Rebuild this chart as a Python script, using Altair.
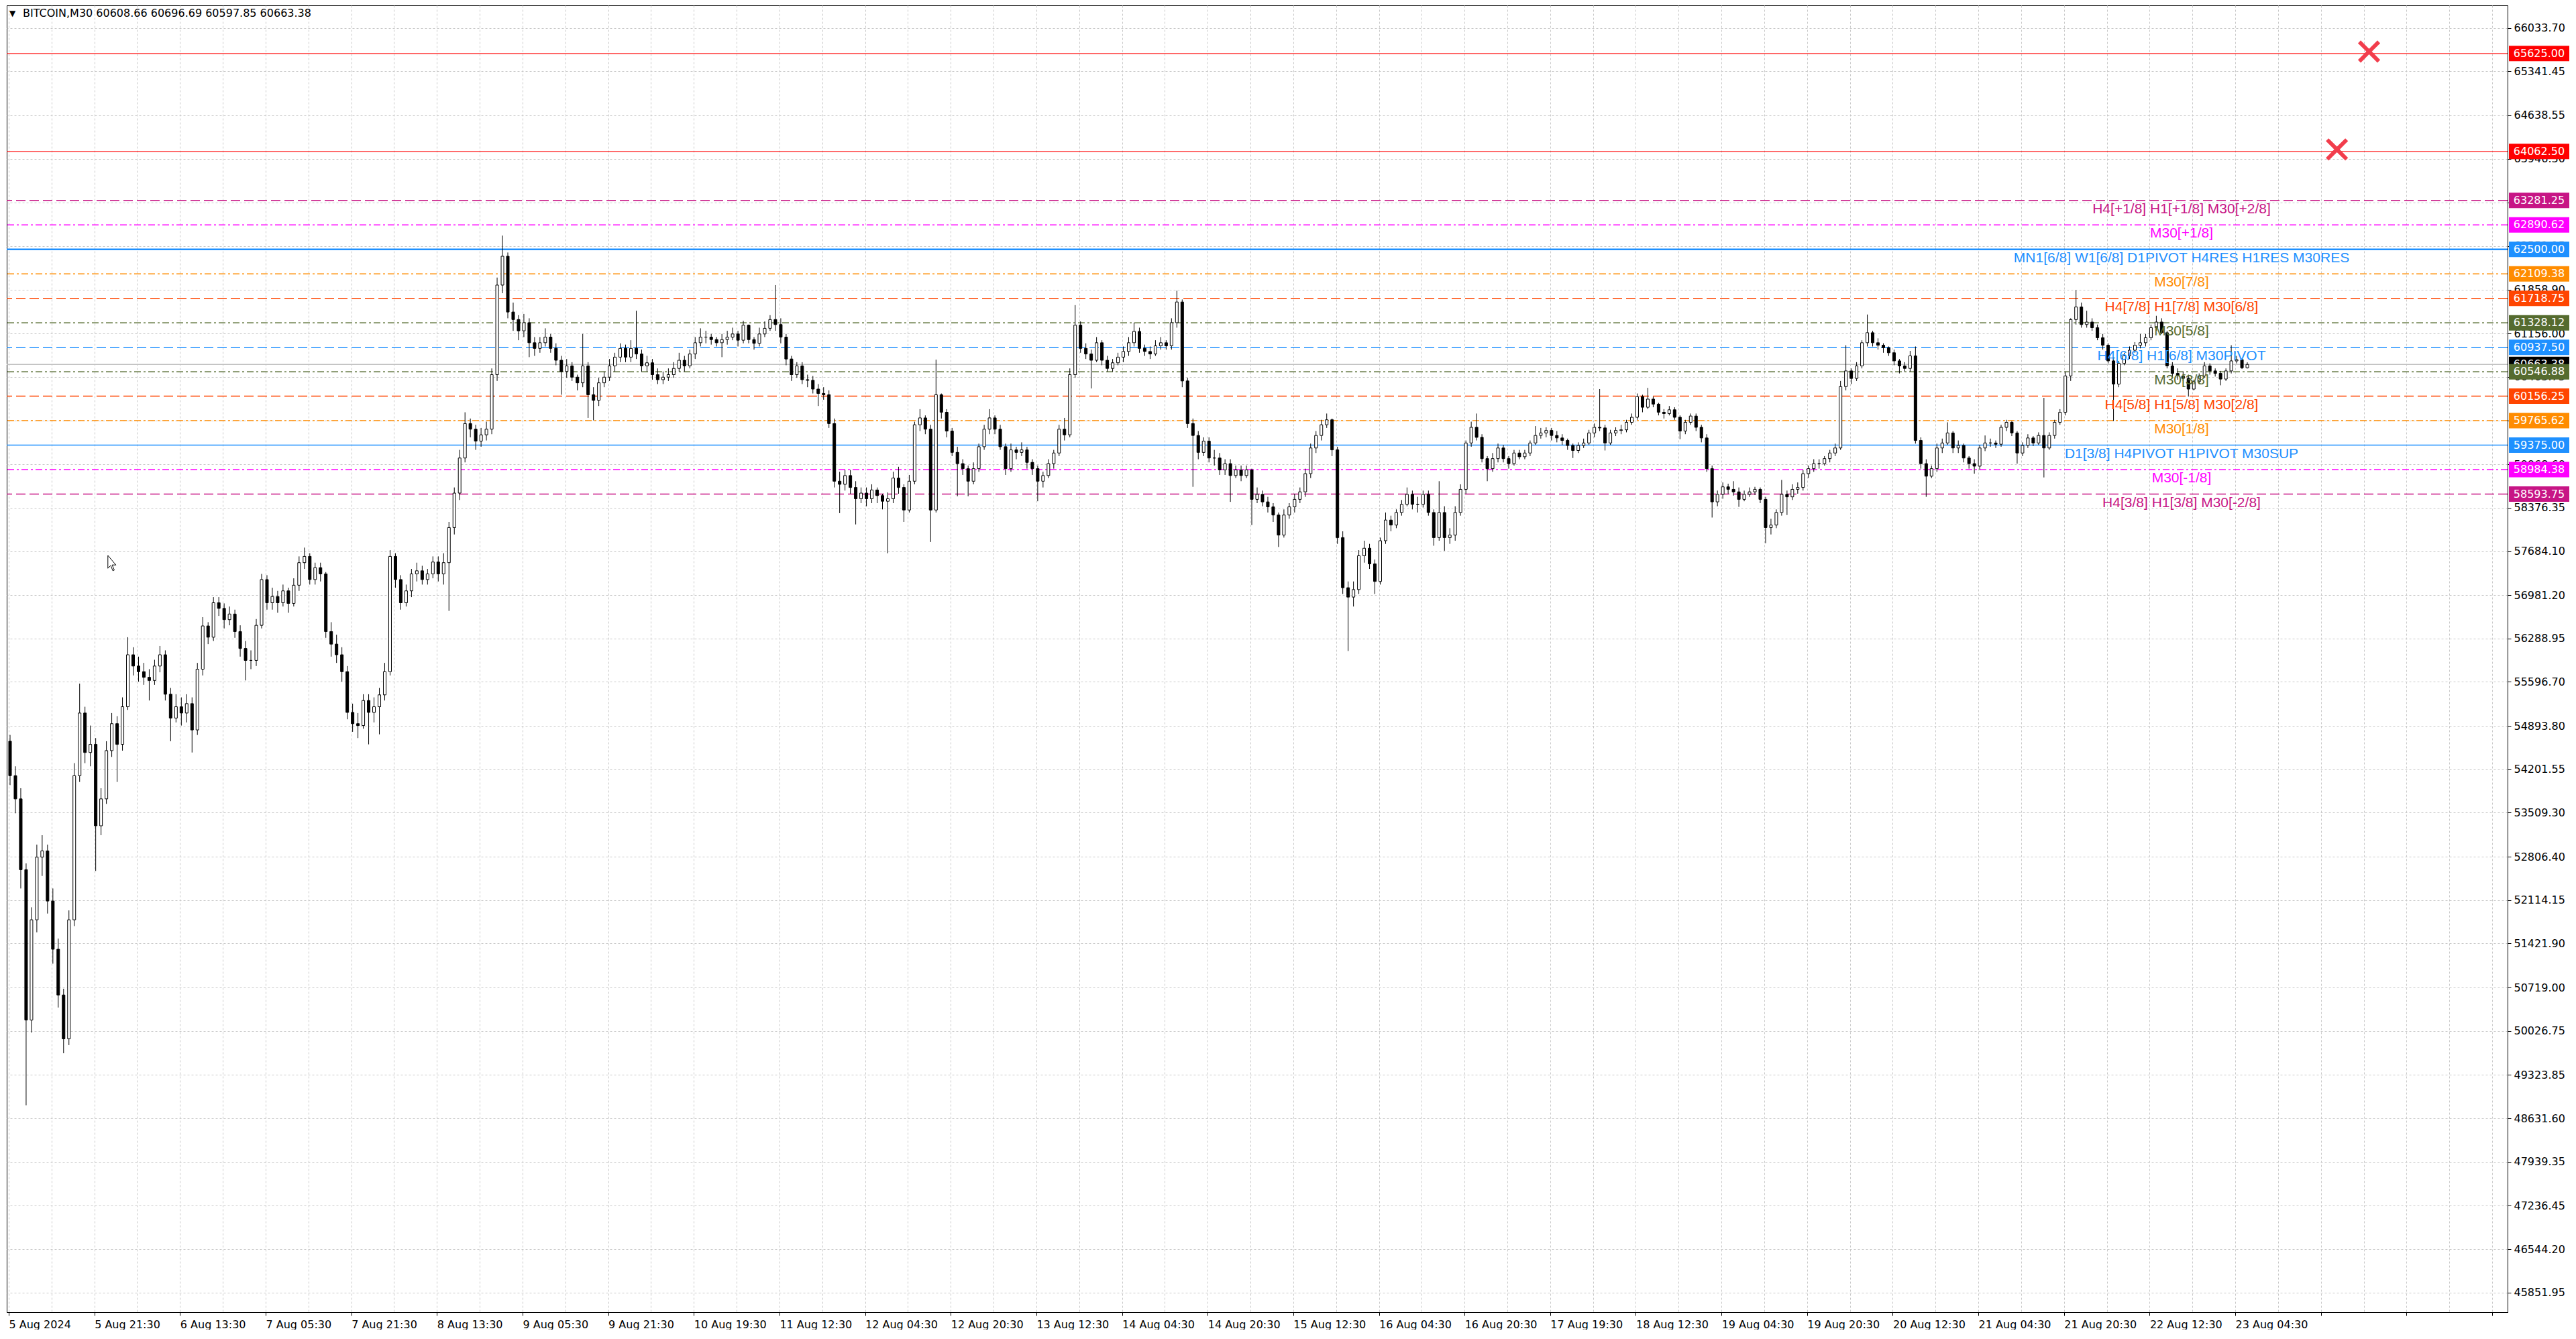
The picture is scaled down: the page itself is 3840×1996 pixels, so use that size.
import json
import altair as alt
import pandas as pd

# ---------------- axis labels ----------------
time_labels = ["5 Aug 2024", "5 Aug 21:30", "6 Aug 13:30", "7 Aug 05:30", "7 Aug 21:30",
               "8 Aug 13:30", "9 Aug 05:30", "9 Aug 21:30", "10 Aug 19:30", "11 Aug 12:30",
               "12 Aug 04:30", "12 Aug 20:30", "13 Aug 12:30", "14 Aug 04:30", "14 Aug 20:30",
               "15 Aug 12:30", "16 Aug 04:30", "16 Aug 20:30", "17 Aug 19:30", "18 Aug 12:30",
               "19 Aug 04:30", "19 Aug 20:30", "20 Aug 12:30", "21 Aug 04:30", "21 Aug 20:30",
               "22 Aug 12:30", "23 Aug 04:30"]

price_ticks = [66033.70, 65341.45, 64638.55, 63946.30, 63243.40, 62551.15, 61858.90, 61156.00,
               60463.75, 59771.50, 59068.60, 58376.35, 57684.10, 56981.20, 56288.95, 55596.70,
               54893.80, 54201.55, 53509.30, 52806.40, 52114.15, 51421.90, 50719.00, 50026.75,
               49323.85, 48631.60, 47939.35, 47236.45, 46544.20, 45851.95]

# ---------------- candles (hourly, 16 per axis-label interval) ----------------
candle_open = [
    54650, 54100, 53730, 52600, 50200, 51800, 52800, 52900, 52100, 51330, 50600, 49900, 51800, 54100, 55100, 54470,
    54600, 53300, 53730, 54500, 54930, 54600, 55200, 56030, 55850, 55760, 55670, 55620, 55850, 56030, 55400, 55020,
    55200, 55100, 55250, 54830, 55800, 56490, 56310, 56860, 56770, 56590, 56680, 56400, 56130, 55940, 55940, 56500,
    57230, 56860, 56960, 56860, 57050, 56850, 57140, 57500, 57600, 57230, 57420, 57320, 56400, 56200, 56030, 55760,
    55110, 54930, 54900, 55300, 55110, 55200, 55390, 55760, 57600, 57230, 56860, 57050, 57320, 57370, 57230, 57320,
    57510, 57320, 57500, 58060, 58610, 59170, 59720, 59630, 59440, 59540, 59630, 60500, 61930, 62390, 61500, 61380,
    61200, 61330, 61010, 60920, 61010, 61100, 60920, 60730, 60550, 60640, 60460, 60370, 60640, 60180, 60090, 60370,
    60460, 60640, 60780, 60920, 60780, 60920, 60830, 60640, 60690, 60500, 60420, 60460, 60500, 60600, 60730, 60640,
    60830, 61010, 61100, 61100, 61060, 61010, 61060, 61100, 61150, 61050, 61290, 61060, 61000, 61150, 61240, 61380,
    61300, 61100, 60750, 60500, 60640, 60420, 60410, 60270, 60200, 60180, 59720, 58800, 58750, 58890, 58700, 58520,
    58610, 58520, 58660, 58570, 58480, 58520, 58850, 58700, 58340, 58800, 59700, 59810, 59630, 58340, 60180, 59900,
    59600, 59260, 59080, 59000, 58800, 59000, 59350, 59630, 59810, 59630, 59350, 59000, 59300, 59260, 59300, 59100,
    59000, 58800, 58890, 59080, 59250, 59630, 59540, 60500, 61290, 60920, 60830, 60730, 61010, 60730, 60600, 60690,
    60780, 60870, 61010, 61190, 60920, 60870, 60830, 60960, 61010, 60960, 61330, 61660, 60400, 59720, 59530, 59260,
    59440, 59170, 59170, 58980, 59080, 58890, 58980, 58890, 58980, 58510, 58590, 58470, 58390, 58260, 57940, 58260,
    58390, 58510, 58630, 58920, 59330, 59530, 59700, 59780, 59300, 57900, 57100, 56950, 57070, 57610, 57730, 57480,
    57200, 57850, 58180, 58100, 58300, 58430, 58590, 58430, 58430, 58590, 58300, 57900, 58300, 57900, 57940, 58300,
    58670, 59410, 59660, 59500, 59160, 59000, 59160, 59330, 59160, 59080, 59250, 59190, 59250, 59410, 59530, 59570,
    59610, 59530, 59490, 59450, 59370, 59290, 59370, 59410, 59570, 59660, 59650, 59410, 59570, 59610, 59620, 59740,
    59820, 60150, 59980, 60110, 60030, 59900, 59880, 59940, 59820, 59600, 59740, 59840, 59660, 59490, 59000, 58470,
    58590, 58710, 58670, 58630, 58510, 58590, 58630, 58670, 58510, 58060, 58100, 58300, 58590, 58550, 58670, 58700,
    58920, 59000, 59080, 59080, 59160, 59250, 59330, 60310, 60560, 60440, 60640, 61010, 61170, 61010, 60970, 60930,
    60850, 60720, 60640, 60600, 60800, 59450, 59080, 58880, 59000, 59330, 59410, 59570, 59330, 59370, 59170, 59080,
    59040, 59330, 59410, 59410, 59390, 59660, 59740, 59570, 59250, 59370, 59490, 59410, 59530, 59330, 59530, 59740,
    59900, 60480, 61380, 61580, 61300, 61340, 61250, 61090, 60970, 60720, 60350, 60680, 60800, 60890, 60970, 61010,
    61090, 61250, 61340, 61170, 60640, 60520, 60480, 60440, 60270, 60390, 60480, 60640, 60560, 60520, 60430, 60560,
    60720, 60740, 60610,
]
candle_high = [
    54750, 54250, 53900, 52700, 52000, 53000, 53150, 53000, 52300, 51500, 50700, 51950, 54300, 55570, 55200, 54900,
    54700, 53900, 54650, 55100, 55050, 55350, 56310, 56150, 56000, 55900, 55800, 55950, 56170, 56100, 55500, 55400,
    55350, 55400, 55350, 55900, 56630, 56550, 56950, 56950, 56850, 56800, 56750, 56500, 56250, 56100, 56600, 57320,
    57300, 57100, 57050, 57150, 57100, 57250, 57600, 57740, 57650, 57500, 57500, 57350, 56550, 56350, 56150, 55850,
    55250, 55100, 55400, 55400, 55350, 55500, 55900, 57700, 57650, 57300, 57150, 57400, 57500, 57450, 57400, 57600,
    57600, 57650, 58150, 58700, 59300, 59900, 59800, 59700, 59650, 59750, 60600, 62050, 62720, 62450, 61650, 61450,
    61470, 61400, 61100, 61100, 61240, 61150, 61000, 60800, 60750, 60700, 60500, 61150, 60700, 60300, 60450, 60550,
    60750, 60850, 61000, 60980, 61050, 61520, 60900, 60800, 60750, 60600, 60550, 60600, 60700, 60850, 60800, 60900,
    61100, 61240, 61200, 61150, 61100, 61150, 61200, 61250, 61200, 61360, 61300, 61100, 61250, 61350, 61450, 61930,
    61400, 61150, 60800, 60700, 60700, 60500, 60480, 60350, 60300, 60250, 59800, 58950, 58980, 58980, 58800, 58700,
    58700, 58750, 58700, 58600, 58620, 58950, 59030, 58750, 58900, 59750, 59950, 59850, 59700, 60740, 60200, 59950,
    59650, 59350, 59150, 59050, 59100, 59400, 59700, 59950, 59850, 59700, 59400, 59400, 59350, 59420, 59350, 59150,
    59050, 58950, 59150, 59300, 59700, 59810, 60600, 61610, 61350, 61000, 60900, 61100, 61050, 60800, 60750, 60850,
    60950, 61100, 61330, 61250, 60980, 60950, 61050, 61100, 61050, 61400, 61840, 61700, 60450, 59800, 59600, 59500,
    59500, 59300, 59250, 59150, 59150, 59050, 59050, 59050, 59000, 58700, 58650, 58550, 58450, 58300, 58350, 58450,
    58600, 58700, 59000, 59400, 59600, 59780, 59880, 59800, 59350, 58000, 57200, 57200, 57700, 57850, 57800, 57550,
    57900, 58300, 58250, 58350, 58500, 58700, 58650, 58550, 58650, 58650, 58350, 58800, 58400, 58050, 58400, 58750,
    59450, 59750, 59880, 59550, 59200, 59250, 59400, 59380, 59200, 59300, 59300, 59300, 59450, 59680, 59650, 59660,
    59650, 59600, 59550, 59480, 59400, 59420, 59480, 59620, 59720, 60270, 59700, 59620, 59660, 59700, 59780, 59880,
    60200, 60180, 60290, 60150, 60050, 59950, 60000, 59980, 59850, 59780, 59880, 59880, 59700, 59550, 59050, 58650,
    58780, 58760, 58800, 58700, 58650, 58700, 58710, 58700, 58550, 58200, 58350, 58820, 58650, 58750, 58780, 58980,
    59050, 59150, 59150, 59200, 59300, 59400, 60400, 60970, 60600, 60700, 61050, 61460, 61200, 61080, 61000, 60950,
    60900, 60750, 60700, 60880, 60950, 59500, 59150, 59050, 59400, 59480, 59740, 59600, 59450, 59400, 59200, 59150,
    59380, 59530, 59480, 59450, 59700, 59780, 59760, 59600, 59420, 59550, 59520, 59580, 60130, 59580, 59780, 59950,
    60550, 61400, 61850, 61650, 61520, 61400, 61300, 61150, 61000, 60780, 60720, 60850, 60950, 61020, 61150, 61150,
    61300, 61440, 61400, 61200, 60700, 60600, 60550, 60500, 60420, 60520, 60700, 60680, 60600, 60560, 60600, 60970,
    60800, 60760, 60697,
]
candle_low = [
    53950, 53500, 52300, 48840, 50000, 51600, 52500, 51900, 51100, 50400, 49670, 49800, 51700, 54000, 54300, 54250,
    52580, 53150, 53650, 54400, 54000, 54500, 55150, 55700, 55600, 55550, 55300, 55550, 55750, 55300, 54650, 54950,
    54900, 54950, 54470, 54750, 55700, 56200, 56250, 56650, 56450, 56500, 56300, 56000, 55620, 55800, 55850, 56450,
    56750, 56750, 56700, 56800, 56700, 56800, 57050, 57400, 57150, 57150, 57200, 56300, 56000, 55900, 55600, 55000,
    54800, 54700, 54850, 54600, 54950, 54760, 55300, 55700, 57100, 56750, 56800, 56950, 57200, 57150, 57150, 57250,
    57200, 57150, 56730, 57950, 58500, 59100, 59500, 59300, 59350, 59450, 59550, 60400, 61800, 61400, 61200, 61050,
    61100, 60780, 60800, 60850, 60950, 60850, 60650, 60180, 60450, 60400, 60250, 60300, 59810, 59770, 60000, 60300,
    60400, 60550, 60700, 60700, 60700, 60750, 60550, 60550, 60420, 60350, 60350, 60400, 60450, 60550, 60550, 60600,
    60750, 60950, 61000, 60980, 60950, 60780, 60980, 61050, 60950, 61000, 61000, 60900, 60950, 61100, 61200, 61200,
    61000, 60650, 60400, 60450, 60350, 60300, 60200, 60000, 60100, 59650, 58700, 58290, 58650, 58600, 58110, 58450,
    58400, 58450, 58450, 58350, 57650, 58450, 58600, 58150, 58300, 58750, 59600, 59550, 57830, 58300, 59800, 59500,
    59200, 58560, 58900, 58560, 58750, 58950, 59300, 59550, 59550, 59300, 58900, 58950, 59150, 59200, 59000, 58900,
    58480, 58700, 58850, 59000, 59200, 59450, 59500, 60450, 60850, 60750, 60280, 60700, 60650, 60550, 60550, 60650,
    60700, 60800, 60950, 60850, 60800, 60750, 60800, 60900, 60900, 60900, 61250, 60300, 59650, 58710, 59150, 59200,
    59100, 59050, 58900, 58900, 58470, 58850, 58800, 58850, 58100, 58450, 58400, 58300, 58150, 57750, 57900, 58200,
    58300, 58450, 58550, 58850, 59250, 59450, 59650, 59200, 57800, 57000, 56090, 56800, 57000, 57500, 57400, 57000,
    57150, 57800, 58000, 58050, 58250, 58400, 58350, 58300, 58380, 58250, 57770, 57850, 57690, 57800, 57850, 58250,
    58600, 59350, 59450, 59100, 58800, 58950, 59100, 59100, 59000, 59050, 59150, 59150, 59200, 59380, 59480, 59500,
    59450, 59420, 59380, 59300, 59170, 59250, 59330, 59380, 59500, 59600, 59290, 59380, 59520, 59550, 59580, 59700,
    59780, 59900, 59950, 59980, 59850, 59800, 59850, 59780, 59470, 59550, 59700, 59600, 59420, 58950, 58220, 58400,
    58520, 58600, 58570, 58390, 58480, 58550, 58580, 58450, 57810, 57950, 58050, 58250, 58260, 58500, 58600, 58650,
    58850, 58950, 59000, 59050, 59100, 59200, 59300, 60250, 60350, 60400, 60600, 60950, 60950, 60900, 60850, 60800,
    60650, 60520, 60550, 60550, 59400, 59000, 58550, 58850, 58950, 59250, 59380, 59250, 59250, 59100, 59000, 58920,
    58980, 59280, 59350, 59330, 59350, 59600, 59520, 59080, 59200, 59330, 59360, 59380, 58860, 59300, 59480, 59700,
    59850, 60400, 61300, 61250, 61250, 61200, 61050, 60900, 60680, 59760, 60300, 60650, 60750, 60850, 60920, 60950,
    61050, 61200, 61150, 60600, 60450, 60420, 60400, 60150, 60250, 60350, 60450, 60500, 60470, 60330, 60400, 60520,
    60680, 60590, 60598,
]
candle_close = [
    54100, 53730, 52600, 50200, 51800, 52800, 52900, 52100, 51330, 50600, 49900, 51800, 54100, 55100, 54470, 54600,
    53300, 53730, 54500, 54930, 54600, 55200, 56030, 55850, 55760, 55670, 55620, 55850, 56030, 55400, 55020, 55200,
    55100, 55250, 54830, 55800, 56490, 56310, 56860, 56770, 56590, 56680, 56400, 56130, 55940, 55940, 56500, 57230,
    56860, 56960, 56860, 57050, 56850, 57140, 57500, 57600, 57230, 57420, 57320, 56400, 56200, 56030, 55760, 55110,
    54930, 54900, 55300, 55110, 55200, 55390, 55760, 57600, 57230, 56860, 57050, 57320, 57370, 57230, 57320, 57510,
    57320, 57500, 58060, 58610, 59170, 59720, 59630, 59440, 59540, 59630, 60500, 61930, 62390, 61500, 61380, 61200,
    61330, 61010, 60920, 61010, 61100, 60920, 60730, 60550, 60640, 60460, 60370, 60640, 60180, 60090, 60370, 60460,
    60640, 60780, 60920, 60780, 60920, 60830, 60640, 60690, 60500, 60420, 60460, 60500, 60600, 60730, 60640, 60830,
    61010, 61100, 61100, 61060, 61010, 61060, 61100, 61150, 61050, 61290, 61060, 61000, 61150, 61240, 61380, 61300,
    61100, 60750, 60500, 60640, 60420, 60410, 60270, 60200, 60180, 59720, 58800, 58750, 58890, 58700, 58520, 58610,
    58520, 58660, 58570, 58480, 58520, 58850, 58700, 58340, 58800, 59700, 59810, 59630, 58340, 60180, 59900, 59600,
    59260, 59080, 59000, 58800, 59000, 59350, 59630, 59810, 59630, 59350, 59000, 59300, 59260, 59300, 59100, 59000,
    58800, 58890, 59080, 59250, 59630, 59540, 60500, 61290, 60920, 60830, 60730, 61010, 60730, 60600, 60690, 60780,
    60870, 61010, 61190, 60920, 60870, 60830, 60960, 61010, 60960, 61330, 61660, 60400, 59720, 59530, 59260, 59440,
    59170, 59170, 58980, 59080, 58890, 58980, 58890, 58980, 58510, 58590, 58470, 58390, 58260, 57940, 58260, 58390,
    58510, 58630, 58920, 59330, 59530, 59700, 59780, 59300, 57900, 57100, 56950, 57070, 57610, 57730, 57480, 57200,
    57850, 58180, 58100, 58300, 58430, 58590, 58430, 58430, 58590, 58300, 57900, 58300, 57900, 57940, 58300, 58670,
    59410, 59660, 59500, 59160, 59000, 59160, 59330, 59160, 59080, 59250, 59190, 59250, 59410, 59530, 59570, 59610,
    59530, 59490, 59450, 59370, 59290, 59370, 59410, 59570, 59660, 59650, 59410, 59570, 59610, 59620, 59740, 59820,
    60150, 59980, 60110, 60030, 59900, 59880, 59940, 59820, 59600, 59740, 59840, 59660, 59490, 59000, 58470, 58590,
    58710, 58670, 58630, 58510, 58590, 58630, 58670, 58510, 58060, 58100, 58300, 58590, 58550, 58670, 58700, 58920,
    59000, 59080, 59080, 59160, 59250, 59330, 60310, 60560, 60440, 60640, 61010, 61170, 61010, 60970, 60930, 60850,
    60720, 60640, 60600, 60800, 59450, 59080, 58880, 59000, 59330, 59410, 59570, 59330, 59370, 59170, 59080, 59040,
    59330, 59410, 59410, 59390, 59660, 59740, 59570, 59250, 59370, 59490, 59410, 59530, 59330, 59530, 59740, 59900,
    60480, 61380, 61580, 61300, 61340, 61250, 61090, 60970, 60720, 60350, 60680, 60800, 60890, 60970, 61010, 61090,
    61250, 61340, 61170, 60640, 60520, 60480, 60440, 60270, 60390, 60480, 60640, 60560, 60520, 60430, 60560, 60720,
    60740, 60610, 60663.38,
]

# ---------------- Murrey / pivot levels ----------------
level_price = [65625.00, 64062.50, 63281.25, 62890.62, 62500.00, 62109.38, 61718.75, 61328.12,
               60937.50, 60663.38, 60546.88, 60156.25, 59765.62, 59375.00, 58984.38, 58593.75]
level_color = ["#FF0000", "#FF0000", "#C71585", "#FF00FF", "#1E90FF", "#FF8C00", "#FF4500", "#556B2F",
               "#1E90FF", "#C0C0C0", "#556B2F", "#FF4500", "#FF8C00", "#1E90FF", "#FF00FF", "#C71585"]
level_box_color = ["#FF0000", "#FF0000", "#C71585", "#FF00FF", "#1E90FF", "#FF8C00", "#FF4500", "#556B2F",
                   "#1E90FF", "#000000", "#556B2F", "#FF4500", "#FF8C00", "#1E90FF", "#FF00FF", "#C71585"]
level_style = ["solid", "solid", "dash", "dashdot", "solid", "dashdot", "dash", "dashdot",
               "dash", "solid", "dashdot", "dash", "dashdot", "solid", "dashdot", "dash"]
level_width = [1, 1, 1.5, 1.5, 2.5, 1.5, 1.5, 1.5, 1.5, 1.5, 1.5, 1.5, 1.5, 1.5, 1.5, 1.5]
level_label = ["", "", "H4[+1/8] H1[+1/8] M30[+2/8]", "M30[+1/8]",
               "MN1[6/8] W1[6/8] D1PIVOT H4RES H1RES M30RES", "M30[7/8]",
               "H4[7/8] H1[7/8] M30[6/8]", "M30[5/8]", "H4[6/8] H1[6/8] M30PIVOT", "",
               "M30[3/8]", "H4[5/8] H1[5/8] M30[2/8]", "M30[1/8]",
               "D1[3/8] H4PIVOT H1PIVOT M30SUP", "M30[-1/8]", "H4[3/8] H1[3/8] M30[-2/8]"]
level_box_text = ["65625.00", "64062.50", "63281.25", "62890.62", "62500.00", "62109.38", "61718.75",
                  "61328.12", "60937.50", "60663.38", "60546.88", "60156.25", "59765.62", "59375.00",
                  "58984.38", "58593.75"]

header_text = "BITCOIN,M30  60608.66 60696.69 60597.85 60663.38"

marker_bar = [882, 870]
marker_price = [65625.00, 64062.50]

# ---------------- layout ----------------
PLOT_W, PLOT_H = 3728, 1948
Y_DOMAIN = [45538, 66394]
X_DOMAIN = [0.5, 932.5]
DASH = [14, 6]
DASHDOT = [10, 4, 3, 4]
BOX_PATH = "M-1,-0.2556L1,-0.2556L1,0.2556L-1,0.2556Z"
X_PATH = "M-1,-0.75L-0.75,-1L0,-0.25L0.75,-1L1,-0.75L0.25,0L1,0.75L0.75,1L0,0.25L-0.75,1L-1,0.75L-0.25,0Z"
CURSOR_PATH = "M-0.6,-1L-0.6,0.6L-0.25,0.25L0.02,0.9L0.2,0.82L-0.07,0.18L0.4,0.18Z"

candles = pd.DataFrame({
    "bar": [2 * k + 0.5 for k in range(len(candle_close))],
    "open": candle_open, "high": candle_high, "low": candle_low, "close": candle_close,
})
levels = pd.DataFrame({
    "price": level_price, "color": level_color, "box_color": level_box_color,
    "style": level_style, "width": level_width, "label": level_label, "box_text": level_box_text,
})
markers = pd.DataFrame({"bar": marker_bar, "price": marker_price})

xscale = alt.Scale(domain=X_DOMAIN, nice=False, zero=False)
yscale = alt.Scale(domain=Y_DOMAIN, nice=False, zero=False)

label_expr = ("datum.value % 32 === 0 && datum.value / 32 < " + str(len(time_labels))
              + " ? " + json.dumps(time_labels) + "[datum.value / 32] : ''")

x_axis = alt.Axis(values=list(range(0, 929, 16)), labelExpr=label_expr, grid=True, title=None,
                  tickSize=5,
                  tickOpacity={"condition": {"test": "datum.value % 32 === 0", "value": 1}, "value": 0},
                  labelAlign="left", labelBaseline="top", labelPadding=5, labelOverlap=False,
                  labelBound=False, labelFlush=False)
y_axis = alt.Axis(values=price_ticks, format=".2f", orient="right", grid=True, title=None,
                  tickSize=5, labelPadding=4, labelOverlap=False, labelBound=False, labelFlush=False)


def Y(field):
    return alt.Y(field, scale=yscale, axis=y_axis)


def X(field):
    return alt.X(field, scale=xscale, axis=x_axis)


layers = []
for style, dash in [("solid", None), ("dash", DASH), ("dashdot", DASHDOT)]:
    mk = alt.Chart(levels).transform_filter("datum.style == '" + style + "'")
    mk = mk.mark_rule(strokeDash=dash) if dash else mk.mark_rule()
    layers.append(mk.encode(
        y=Y("price:Q"),
        color=alt.Color("color:N", scale=None),
        strokeWidth=alt.StrokeWidth("width:Q", scale=None),
    ))

wicks = alt.Chart(candles).mark_rule(color="black", strokeWidth=1).encode(
    x=X("bar:Q"), y=Y("low:Q"), y2="high:Q",
)
bodies = alt.Chart(candles).mark_bar(width=4, stroke="black", strokeWidth=1).encode(
    x=X("bar:Q"), y=Y("open:Q"), y2="close:Q",
    fill=alt.condition("datum.close >= datum.open", alt.value("#FFFFFF"), alt.value("#000000")),
)
level_text = alt.Chart(levels).transform_filter("datum.label != ''").mark_text(
    font="Liberation Sans", fontSize=21, align="center", baseline="top", dy=2
).encode(
    x=alt.value(3242), y=Y("price:Q"), text="label:N",
    color=alt.Color("color:N", scale=None),
)


def box_layers(test):
    src = alt.Chart(levels).transform_filter(test)
    b = src.mark_point(shape=BOX_PATH, filled=True, size=8100, opacity=1, strokeWidth=0).encode(
        x=alt.value(3775), y=Y("price:Q"), color=alt.Color("box_color:N", scale=None),
    )
    t = src.mark_text(font="DejaVu Sans", fontSize=16, color="white",
                      align="center", baseline="middle").encode(
        x=alt.value(3775), y=Y("price:Q"), text="box_text:N",
    )
    return [b, t]


current_boxes = box_layers("datum.box_color == '#000000'")
other_boxes = box_layers("datum.box_color != '#000000'")

xmarks = alt.Chart(markers).mark_point(shape=X_PATH, filled=True, size=1100, opacity=1,
                                       color="#F23D4C", strokeWidth=0, yOffset=-3).encode(
    x=X("bar:Q"), y=Y("price:Q"),
)
header_tri = alt.Chart(pd.DataFrame({"t": ["▼"]})).mark_text(
    font="DejaVu Sans", fontSize=12, color="black", align="left", baseline="middle"
).encode(x=alt.value(4), y=alt.value(12), text="t:N")
header = alt.Chart(pd.DataFrame({"t": [header_text]})).mark_text(
    font="DejaVu Sans", fontSize=16, color="black", align="left", baseline="middle"
).encode(x=alt.value(24), y=alt.value(12), text="t:N")
cursor = alt.Chart(pd.DataFrame({"c": [1]})).mark_point(
    shape=CURSOR_PATH, filled=True, size=576, color="white", stroke="black", strokeWidth=1, opacity=1
).encode(x=alt.value(158), y=alt.value(832))

chart = alt.layer(
    *layers, wicks, bodies, level_text, *current_boxes, *other_boxes, xmarks, header_tri, header, cursor
).properties(
    width=PLOT_W, height=PLOT_H, padding=0, background="white"
).configure_view(
    stroke="black", strokeWidth=1
).configure_axis(
    labelFont="DejaVu Sans", labelFontSize=16, labelColor="black", tickColor="black",
    domainColor="black", gridColor="#C8C8C8", gridDash=[3, 3], gridWidth=1
)

chart.save("out.html", embed_options={"renderer": "svg", "actions": False})
